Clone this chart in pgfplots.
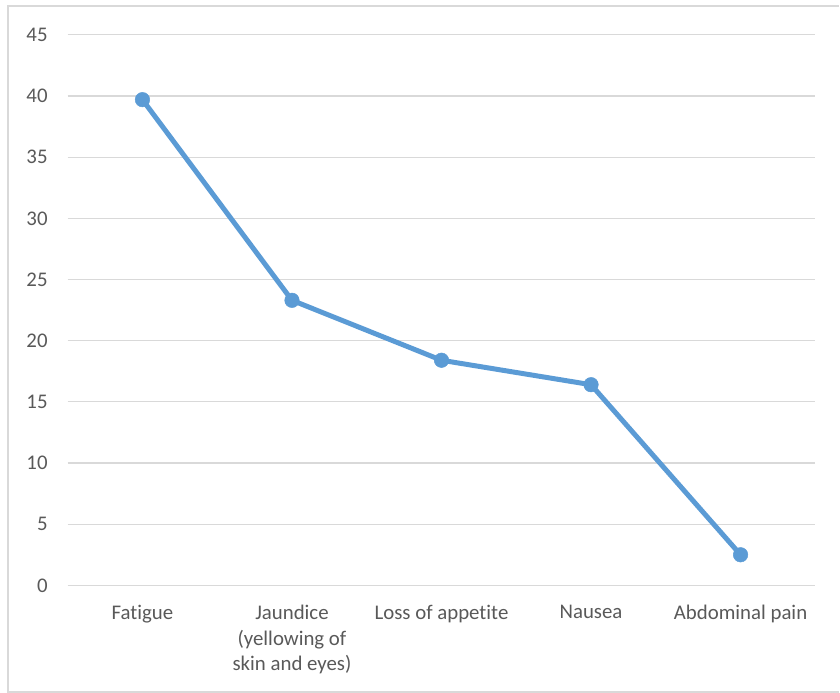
\documentclass[border=0pt]{standalone}
\usepackage{pgfplots}
\pgfplotsset{compat=1.18}
\usepackage{fontspec}
\setmainfont{Carlito}[Ligatures=NoCommon]
\definecolor{linec}{HTML}{5B9BD5}
\definecolor{gridc}{HTML}{D9D9D9}
\definecolor{textc}{HTML}{595959}
\begin{document}
\begin{tikzpicture}[x=1bp,y=1bp]
\begin{axis}[
  at={(0,0)}, anchor=south west,
  scale only axis, width=751bp, height=553bp,
  xmin=-0.5, xmax=4.5, ymin=0, ymax=45,
  xtick={0,1,2,3,4},
  xticklabels={Fatigue,{Jaundice\\(yellowing of\\skin and eyes)},Loss of appetite,Nausea,Abdominal pain},
  ytick={0,5,...,45},
  axis line style={draw=none},
  major tick length=0pt,
  ymajorgrids, grid style={gridc, line width=1.3bp},
  tick label style={font=\fontsize{21}{25.5}\selectfont, text=textc},
  /pgf/number format/assume math mode=true,
  yticklabel style={inner sep=0pt, anchor=east, xshift=-20bp},
  xticklabel style={inner sep=0pt, anchor=north, align=center, yshift=-20bp},
  clip=false,
]
\addplot[linec, line width=5bp, mark=*, mark size=7.3bp, mark options={solid, fill=linec, draw=linec, line width=0.5bp}]
  coordinates {(0,39.7)(1,23.3)(2,18.4)(3,16.4)(4,2.5)};
\end{axis}
\draw[gridc, line width=1.6bp] (775,-107) -- (-60,-107) -- (-60,582) -- (775,582);
\useasboundingbox (-68,-108) rectangle (772,588);
\end{tikzpicture}
\end{document}
